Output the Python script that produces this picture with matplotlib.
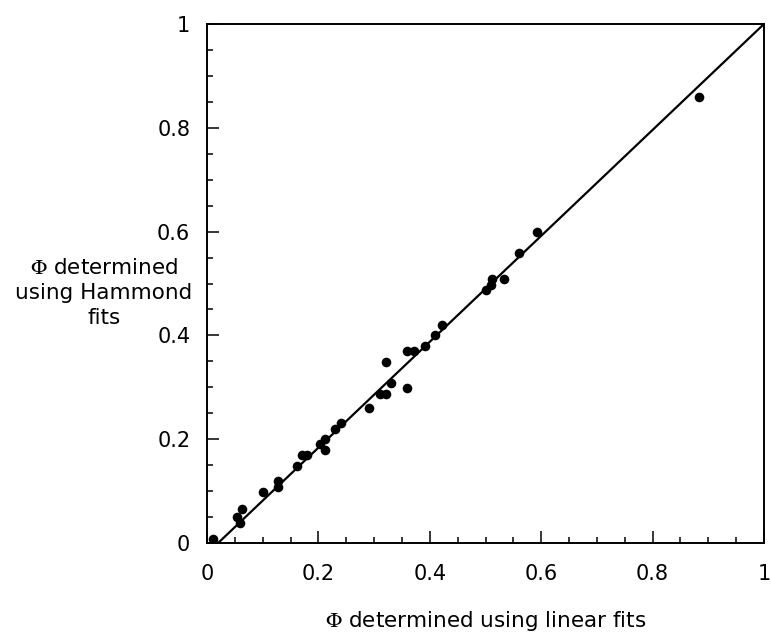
import matplotlib
matplotlib.use("Agg")
import matplotlib.pyplot as plt
import numpy as np
from matplotlib.ticker import MultipleLocator, FixedLocator

plt.rcParams['font.family'] = ['DejaVu Sans']
plt.rcParams['mathtext.fontset'] = 'stix'

# Data
phi_linear = [0.011, 0.053, 0.062, 0.060, 0.101, 0.128, 0.128, 0.161, 0.170, 0.180,
              0.202, 0.211, 0.211, 0.230, 0.240, 0.290, 0.311, 0.321, 0.331, 0.359,
              0.321, 0.359, 0.372, 0.391, 0.409, 0.422, 0.501, 0.510, 0.511, 0.533,
              0.561, 0.592, 0.883]
phi_hammond = [0.007, 0.051, 0.066, 0.039, 0.098, 0.119, 0.108, 0.149, 0.169, 0.169,
               0.190, 0.200, 0.179, 0.220, 0.231, 0.261, 0.288, 0.288, 0.308, 0.298,
               0.349, 0.370, 0.370, 0.380, 0.400, 0.420, 0.487, 0.497, 0.509, 0.508,
               0.559, 0.599, 0.860]
fit_slope = 1.0204
fit_intercept = -0.0204
fit_x_range = [0.02, 1.0]

tick_values = [0, 0.2, 0.4, 0.6, 0.8, 1]
tick_labels = ["0", "0.2", "0.4", "0.6", "0.8", "1"]

fig = plt.figure(figsize=(7.71, 6.37), dpi=100)
ax = fig.add_axes([207/771, 94/637, 557/771, 519/637])

fx = np.array(fit_x_range)
ax.plot(fx, fit_slope * fx + fit_intercept, color='black', lw=1.6, zorder=2)
ax.scatter(phi_linear, phi_hammond, s=48, color='black', zorder=3, linewidths=0)

ax.set_xlim(0, 1)
ax.set_ylim(0, 1)
for sp in ax.spines.values():
    sp.set_linewidth(1.4)

ax.xaxis.set_major_locator(FixedLocator(tick_values))
ax.yaxis.set_major_locator(FixedLocator(tick_values))
ax.set_xticklabels(tick_labels)
ax.set_yticklabels(tick_labels)
ax.xaxis.set_minor_locator(MultipleLocator(0.05))
ax.yaxis.set_minor_locator(MultipleLocator(0.05))
ax.tick_params(which='both', direction='in', top=False, right=False, width=1.1, labelsize=15)
ax.tick_params(axis='x', which='major', length=8.4, pad=15)
ax.tick_params(axis='y', which='major', length=8.4, pad=12)
ax.tick_params(which='minor', length=4.3)

ax.set_xlabel(r"$\Phi$ determined using linear fits", fontsize=15.5, labelpad=18)
ax.set_ylabel("$\\Phi$ determined\nusing Hammond\nfits", fontsize=15.5, rotation=0,
              ha='center', va='center', linespacing=1.3)
ax.yaxis.set_label_coords(-0.185, 0.482)

fig.savefig("out.png", dpi=100)
